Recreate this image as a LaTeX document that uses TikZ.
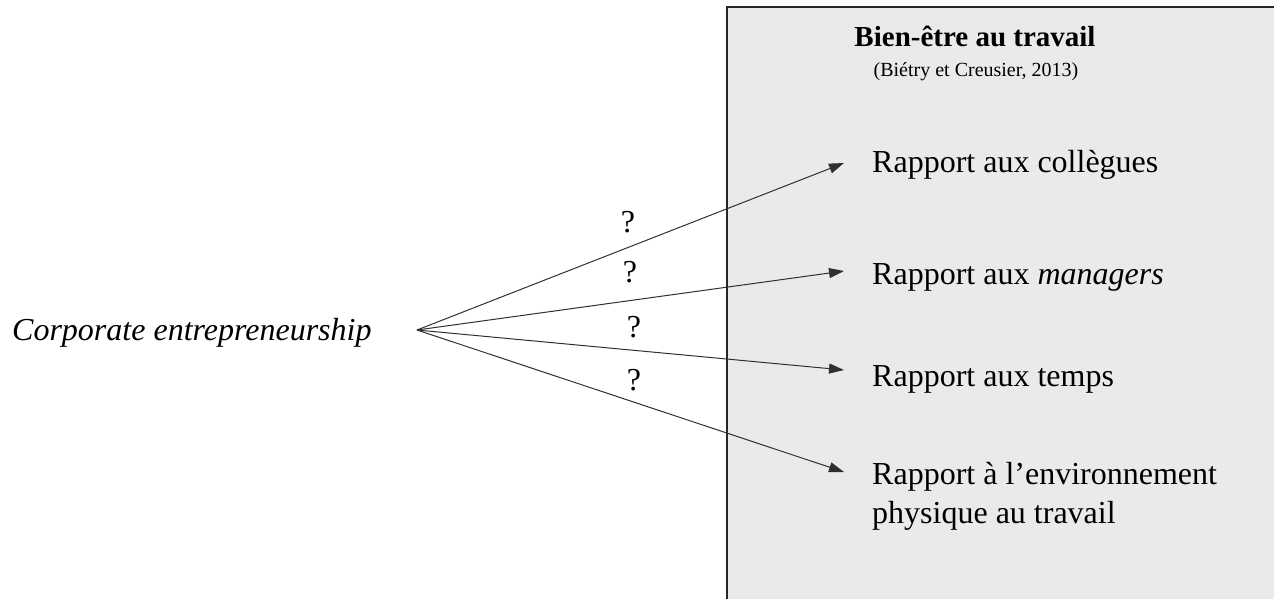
\documentclass[tikz,border=0pt]{standalone}
\usepackage{fontspec}
\setmainfont{Liberation Serif}
\usetikzlibrary{arrows.meta}
\definecolor{boxgray}{HTML}{EAEAEA}
\definecolor{linegray}{HTML}{303030}
\tikzset{
  txt/.style={inner sep=0pt, font=\fontsize{32}{39}\selectfont},
  qmark/.style={inner sep=0pt, anchor=base, font=\fontsize{32}{39}\selectfont},
  conn/.style={draw=linegray, line width=1pt, -{Triangle[length=15pt,width=10pt]}}
}
\begin{document}
\begin{tikzpicture}[x=1pt,y=-1pt]
\useasboundingbox (0,0) rectangle (1274,599);
% grey panel (open on the right and at the bottom)
\fill[boxgray] (727,7) rectangle (1274,599);
\draw[black!85, line width=2pt] (727,599) -- (727,7) -- (1274,7);
% title
\node[inner sep=0pt, anchor=base, font=\fontsize{29}{34}\selectfont\bfseries] (title) at (975,47) {Bien-être au travail};
\node[inner sep=0pt, anchor=base, font=\fontsize{20}{24}\selectfont] (ref) at (976,77) {(Biétry et Creusier, 2013)};
% source
\node[txt, anchor=base west] (corp) at (12,340) {\itshape Corporate entrepreneurship};
\coordinate (src) at (417,330);
% targets
\node[txt, anchor=base west] (r1) at (872,172) {Rapport aux collègues};
\node[txt, anchor=base west] (r2) at (872,284) {Rapport aux \textit{managers}};
\node[txt, anchor=base west] (r3) at (872,386) {Rapport aux temps};
\node[txt, anchor=base west] (r4) at (872,484) {Rapport à l’environnement};
\node[txt, anchor=base west] (r4b) at (872,523) {physique au travail};
\coordinate (t1) at (844,163);
\coordinate (t2) at (844,271);
\coordinate (t3) at (844,370);
\coordinate (t4) at (844,472);
% connectors
\draw[conn] (src) -- (t1);
\draw[conn] (src) -- (t2);
\draw[conn] (src) -- (t3);
\draw[conn] (src) -- (t4);
% question marks
\node[qmark] (q1) at (628,232) {?};
\node[qmark] (q2) at (630,282) {?};
\node[qmark] (q3) at (634,337) {?};
\node[qmark] (q4) at (634,390) {?};
\end{tikzpicture}
\end{document}
